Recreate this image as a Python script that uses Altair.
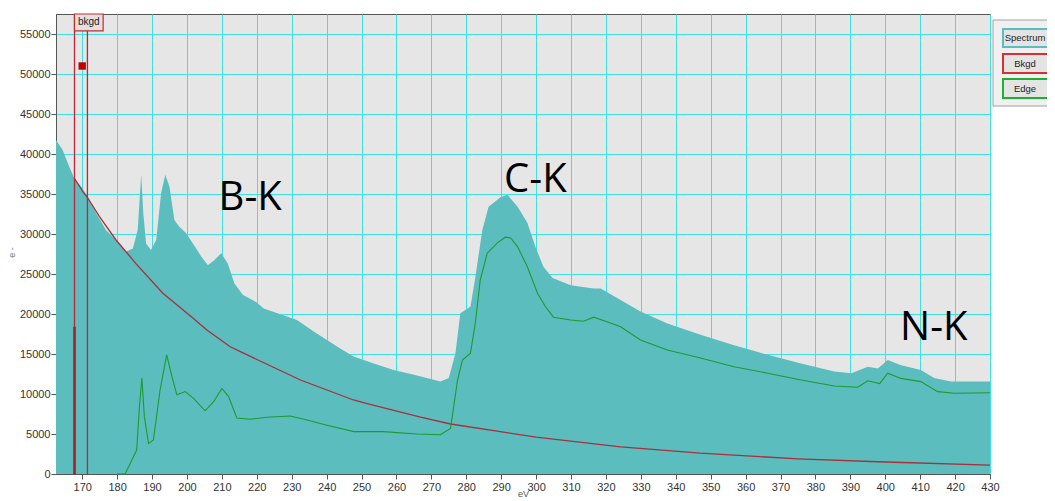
import altair as alt
import pandas as pd

# ---------------- data ----------------
spec_ev = [162.5, 164.4, 166.3, 167.7, 169.7, 171.6, 174.0, 176.8, 179.7, 182.6,
           184.5, 185.9, 186.9, 187.5, 188.3, 189.7, 191.2, 192.6, 193.8, 195.0,
           196.4, 197.8, 199.8, 201.7, 204.1, 206.0, 207.9, 209.8, 211.7, 213.6,
           216.0, 219.8, 222.0, 228.6, 231.5, 236.3, 240.1, 243.9, 247.7, 253.5,
           259.2, 265.0, 272.6, 275.0, 276.9, 278.3, 281.2, 282.6, 284.6, 286.4,
           289.8, 291.8, 294.7, 297.5, 299.8, 302.1, 304.7, 309.9, 316.5, 318.5,
           324.2, 329.9, 337.6, 347.1, 356.7, 366.3, 375.9, 385.4, 390.3, 395.0,
           397.9, 400.7, 404.5, 410.2, 414.0, 418.8, 430.0]
spec_val = [41750, 40500, 38400, 37000, 35900, 34700, 32600, 30500, 29250, 27800,
            28200, 30500, 37400, 32600, 28800, 28000, 29250, 35100, 37400, 35900,
            31750, 30900, 30100, 28800, 27200, 26100, 26750, 27600, 26300, 23800,
            22400, 21500, 20700, 19700, 19250, 17800, 16750, 15700, 14700, 13800,
            13000, 12400, 11550, 12000, 15100, 20100, 20900, 24600, 30500, 33400,
            34600, 34900, 33400, 31400, 28400, 25900, 24500, 23600, 23200, 23200,
            21750, 20300, 18800, 17400, 16100, 14900, 13800, 12800, 12600, 13400,
            13200, 14250, 13600, 13000, 12000, 11550, 11550]

edge_ev = [180.0, 182.3, 185.6, 186.4, 187.1, 187.8, 189.0, 190.4, 192.3, 194.2,
           195.7, 197.1, 199.5, 201.9, 205.2, 207.6, 210.0, 211.9, 214.3, 218.1,
           222.9, 229.6, 234.4, 240.1, 247.8, 256.3, 265.9, 272.6, 275.5, 277.5,
           278.9, 281.2, 282.6, 284.0, 286.0, 288.9, 291.2, 292.7, 294.7, 297.5,
           300.4, 302.7, 305.0, 309.9, 313.6, 316.5, 320.5, 324.2, 329.9, 337.6,
           347.1, 356.7, 366.3, 375.9, 385.4, 392.1, 395.0, 398.4, 400.7, 404.5,
           410.2, 415.0, 419.8, 430.0]
edge_val = [0, 0, 3000, 8400, 12000, 7200, 3800, 4250, 10500, 14900,
            12200, 9900, 10300, 9450, 7900, 9000, 10700, 9700, 7000, 6850,
            7100, 7250, 6750, 6100, 5300, 5300, 5000, 4900, 5700, 11750,
            14250, 15100, 18900, 24250, 27600, 28900, 29600, 29500, 28400, 25900,
            22600, 20900, 19600, 19250, 19100, 19600, 19000, 18400, 16750, 15500,
            14500, 13400, 12600, 11750, 11000, 10850, 11650, 11300, 12600, 11950,
            11550, 10300, 10100, 10150]

bkgd_ev = [167.7, 170.2, 171.6, 174.9, 179.7, 185.4, 193.1, 201.7, 205.7, 212.4,
           216.2, 232.5, 247.7, 251.6, 266.9, 275.5, 300.0, 324.2, 347.0, 375.0,
           400.0, 430.0]
bkgd_val = [37000, 35300, 34500, 32200, 29250, 26300, 22600, 19500, 18000, 15900,
            15100, 11750, 9250, 8800, 7100, 6250, 4600, 3400, 2600, 1900,
            1500, 1100]

x_ticks = list(range(170, 431, 10))
y_ticks = list(range(0, 55001, 5000))

window_ev = [167.8, 171.5]          # background fitting window
window_bar_top = 18400
marker_ev, marker_val = 170.0, 51000
bkgd_box = [167.8, 176.0, 55400, 57500]

peak_labels = ["B-K", "C-K", "N-K"]
peak_ev = [218.1, 299.8, 413.9]
peak_val = [34500, 36750, 18250]

legend_names = ["Spectrum", "Bkgd", "Edge"]

# ---------------- styles ----------------
TEAL = "#5bbdbd"
RED = "#a8303c"
GREEN = "#1f9a2e"
GRID = "#3ee0e0"
xs = alt.Scale(domain=[162.5, 430], nice=False, zero=False)
ys = alt.Scale(domain=[0, 57500], nice=False)

spec_df = pd.DataFrame({"ev": spec_ev, "v": spec_val})
edge_df = pd.DataFrame({"ev": edge_ev, "v": edge_val})
bkgd_df = pd.DataFrame({"ev": bkgd_ev, "v": bkgd_val})
peak_df = pd.DataFrame({"ev": peak_ev, "v": peak_val, "t": peak_labels})
win_df = pd.DataFrame({"ev": window_ev})

x_axis = alt.Axis(values=x_ticks, title="eV", grid=True, gridColor=GRID, gridWidth=1,
                  gridOpacity=1, labelFontSize=11, labelFont="Liberation Sans",
                  labelColor="#333", tickColor="#555", tickSize=5, domainColor="#555",
                  titleFont="Liberation Sans", titleFontSize=9, titleFontWeight="normal",
                  titleColor="#555", labelPadding=2, titlePadding=-3, labelFlush=False,
                  format="d")
y_axis = alt.Axis(values=y_ticks, title="e -", grid=True, gridColor=GRID, gridWidth=1,
                  gridOpacity=1, labelFontSize=11, labelFont="Liberation Sans",
                  labelColor="#333", tickColor="#555", tickSize=5, domainColor="#555",
                  titleFont="Liberation Sans", titleFontSize=9, titleFontWeight="normal",
                  titleColor="#777", labelPadding=1, titleX=-40, titleY=238,
                  labelFlush=False, format="d")


def X(field):
    return alt.X(field, scale=xs, axis=x_axis)


def Y(field):
    return alt.Y(field, scale=ys, axis=y_axis)


area = alt.Chart(spec_df).mark_area(color=TEAL, opacity=1).encode(x=X("ev:Q"), y=Y("v:Q"))

bkgd_line = alt.Chart(bkgd_df).mark_line(color=RED, strokeWidth=1.3).encode(
    x=X("ev:Q"), y=Y("v:Q"))

edge_line = alt.Chart(edge_df).mark_line(color=GREEN, strokeWidth=1.1).encode(
    x=X("ev:Q"), y=Y("v:Q"))

win_rules = alt.Chart(win_df).mark_rule(color="#b8283a", strokeWidth=1.3).encode(x=X("ev:Q"))

win_bar = alt.Chart(pd.DataFrame({"ev": [window_ev[0]], "v": [window_bar_top]})).mark_rule(
    color="#a81e24", strokeWidth=2.5).encode(x=X("ev:Q"), y=Y("v:Q"), y2=alt.datum(0))

box_df = pd.DataFrame({"x1": [bkgd_box[0]], "x2": [bkgd_box[1]],
                       "y1": [bkgd_box[2]], "y2": [bkgd_box[3]], "t": ["bkgd"]})
box = alt.Chart(box_df).mark_rect(fill="#e8dede", stroke="#b83030", strokeWidth=1.2).encode(
    x=X("x1:Q"), x2="x2:Q", y=Y("y1:Q"), y2="y2:Q")
box_text = alt.Chart(box_df).mark_text(fontSize=10, font="Liberation Sans", color="#222").encode(
    x=X("mx:Q"), y=Y("my:Q"), text="t:N"
).transform_calculate(mx="(datum.x1 + datum.x2) / 2", my="(datum.y1 + datum.y2) / 2")

marker = alt.Chart(pd.DataFrame({"ev": [marker_ev], "v": [marker_val]})).mark_square(
    size=55, color="#c00000", opacity=1).encode(x=X("ev:Q"), y=Y("v:Q"))

peaks = alt.Chart(peak_df).mark_text(fontSize=40, font="Open Sans", color="black").encode(
    x=X("ev:Q"), y=Y("v:Q"), text="t:N")

# ---------------- button-like legend on the right ----------------
leg_data = alt.Data(values=[{"n": legend_names[0]}])
panel = alt.Chart(leg_data).mark_rect(fill="#f0f0f0", stroke="#a0a0a0", strokeWidth=1).encode(
    x=alt.value(937), x2=alt.value(1030), y=alt.value(6), y2=alt.value(92))

legend_layers = [panel]
leg_colors = [TEAL, "#d83030", "#20b030"]
leg_y = [(15, 33), (40, 59), (65, 84)]
for name, col, (y1, y2) in zip(legend_names, leg_colors, leg_y):
    d = alt.Data(values=[{"n": name}])
    legend_layers.append(alt.Chart(d).mark_rect(fill="#e4e4e4", stroke=col, strokeWidth=2).encode(
        x=alt.value(947), x2=alt.value(1030), y=alt.value(y1), y2=alt.value(y2)))
    legend_layers.append(alt.Chart(d).mark_text(fontSize=9.5, font="Liberation Sans", color="#222").encode(
        x=alt.value(969), y=alt.value((y1 + y2) / 2), text="n:N"))

chart = alt.layer(area, bkgd_line, edge_line, win_rules, win_bar, box, box_text, marker, peaks,
                  *legend_layers).properties(
    width=934, height=460,
    autosize=alt.AutoSizeParams(type="none"),
    padding={"left": 48, "top": 6, "right": 57, "bottom": 30},
).configure_view(fill="#e6e6e6", stroke="#555", strokeWidth=1)

chart.save("out.html", embed_options={"renderer": "svg", "actions": False})
